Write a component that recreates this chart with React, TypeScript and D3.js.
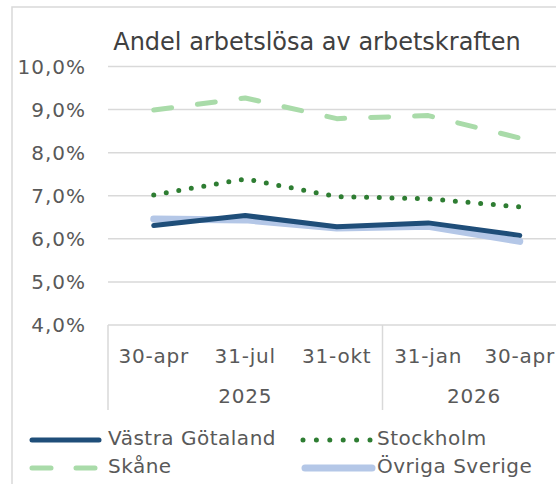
import React from "react";
import * as d3 from "d3";

const dates = ["30-apr", "31-jul", "31-okt", "31-jan", "30-apr"];
const years = [
  { label: "2025", from: 0, to: 3 },
  { label: "2026", from: 3, to: 5 },
];
const yTicks = [4, 5, 6, 7, 8, 9, 10];

const vastraGotaland = [6.31, 6.54, 6.28, 6.37, 6.08];
const stockholm = [7.02, 7.39, 6.98, 6.93, 6.74];
const skane = [8.99, 9.27, 8.79, 8.86, 8.34];
const ovrigaSverige = [6.46, 6.44, 6.25, 6.29, 5.94];

const FONT = "'DejaVu Sans', Verdana, sans-serif";

const App = () => {
  const width = 556;
  const height = 484;
  const left = 108;
  const bw = 91.5;

  const x = d3
    .scaleBand<number>()
    .domain(d3.range(dates.length))
    .range([left, left + bw * dates.length]);
  const cx = (i: number) => (x(i) as number) + x.bandwidth() / 2;

  const y = d3.scaleLinear().domain([4, 10]).range([325, 66.5]);

  const line = d3
    .line<number>()
    .x((d, i) => cx(i))
    .y((d) => y(d));

  const fmt = (v: number) => v.toFixed(1).replace(".", ",") + "%";

  // drawing order: light blue under the dark line
  const series = [
    { name: "Övriga Sverige", data: ovrigaSverige, color: "#b4c7e7", w: 7, dash: null },
    { name: "Skåne", data: skane, color: "#a9dba9", w: 5, dash: "18 26" },
    { name: "Stockholm", data: stockholm, color: "#2e7d32", w: 5, dash: "0 12.7" },
    { name: "Västra Götaland", data: vastraGotaland, color: "#1f4e79", w: 5, dash: null },
  ];

  const legend = [
    { name: "Västra Götaland", color: "#1f4e79", w: 5, dash: null, cap: "round", x1: 32, x2: 99, tx: 108, row: 0 },
    { name: "Stockholm", color: "#2e7d32", w: 5, dash: "0 13.4", cap: "round", x1: 303, x2: 371, tx: 377, row: 0 },
    { name: "Skåne", color: "#a9dba9", w: 5, dash: "19 25", cap: "round", x1: 32, x2: 99, tx: 108, row: 1 },
    { name: "Övriga Sverige", color: "#b4c7e7", w: 7, dash: null, cap: "round", x1: 305, x2: 372, tx: 377, row: 1 },
  ];

  return (
    <svg
      width={width}
      height={height}
      style={{ position: "absolute", left: 0, top: 0, background: "#fff" }}
      fontFamily={FONT}
    >
      {/* chart border */}
      <rect x={12} y={7} width={600} height={600} fill="none" stroke="#d9d9d9" strokeWidth={1.5} />

      <text x={317} y={50} textAnchor="middle" fontSize={24} fill="#404040">
        Andel arbetslösa av arbetskraften
      </text>

      {/* gridlines */}
      {yTicks.map((t) => (
        <line key={t} x1={left} x2={width} y1={y(t)} y2={y(t)} stroke="#d9d9d9" strokeWidth={1.5} />
      ))}
      {yTicks.map((t) => (
        <text key={"l" + t} x={86} y={y(t)} dy="0.36em" textAnchor="end" fontSize={20} letterSpacing={1} fill="#595959">
          {fmt(t)}
        </text>
      ))}

      {/* category axis */}
      {[0, 3].map((i) => (
        <line key={"v" + i} x1={x(i)} x2={x(i)} y1={325} y2={410} stroke="#d9d9d9" strokeWidth={1.5} />
      ))}
      {dates.map((d, i) => (
        <text key={"d" + i} x={cx(i)} y={363} textAnchor="middle" fontSize={20} letterSpacing={0.8} fill="#595959">
          {d}
        </text>
      ))}
      {years.map((g) => (
        <text
          key={g.label}
          x={((x(g.from) as number) + (x(g.to - 1) as number) + x.bandwidth()) / 2}
          y={403}
          textAnchor="middle"
          fontSize={20}
          letterSpacing={0.8}
          fill="#595959"
        >
          {g.label}
        </text>
      ))}

      {/* series */}
      {series.map((s) => (
        <path
          key={s.name}
          d={line(s.data) as string}
          fill="none"
          stroke={s.color}
          strokeWidth={s.w}
          strokeLinecap="round"
          strokeLinejoin="round"
          strokeDasharray={s.dash ?? undefined}
        />
      ))}

      {/* legend */}
      {legend.map((l) => {
        const ly = 440 + l.row * 28;
        return (
          <g key={l.name}>
            <line
              x1={l.x1}
              x2={l.x2}
              y1={ly}
              y2={ly}
              stroke={l.color}
              strokeWidth={l.w}
              strokeLinecap={l.cap as any}
              strokeDasharray={l.dash ?? undefined}
            />
            <text x={l.tx} y={ly + 5} fontSize={20} letterSpacing={0.5} fill="#595959">
              {l.name}
            </text>
          </g>
        );
      })}
    </svg>
  );
};

export default App;
